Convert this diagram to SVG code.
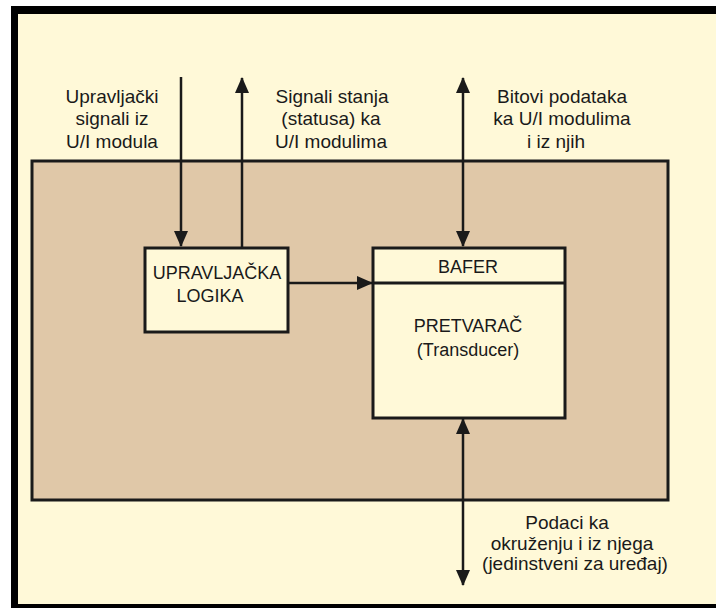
<svg xmlns="http://www.w3.org/2000/svg" width="716" height="608" viewBox="0 0 716 608">
<style>
.lbl{font-family:"Liberation Sans",Arial,sans-serif;font-size:19px;fill:#1a1a1a;text-anchor:middle}
.box{font-family:"Liberation Sans",Arial,sans-serif;font-size:18px;fill:#1a1a1a;text-anchor:middle}
.node{fill:#FFF9D8;stroke:#1a1a1a;stroke-width:3}
.wire{stroke:#1a1a1a;stroke-width:2.5;fill:none}
</style>
<defs>
<marker id="ah" markerUnits="userSpaceOnUse" markerWidth="16" markerHeight="16" refX="15" refY="8" orient="auto-start-reverse" viewBox="0 0 16 16">
<path d="M0,1 L16,8 L0,15 Z" fill="#1a1a1a"/>
</marker>
</defs>
<rect x="0" y="0" width="716" height="608" fill="#ffffff"/>
<rect x="11" y="6" width="720" height="610" fill="#000000"/>
<rect x="18" y="14" width="710" height="590" fill="#FFF9D8"/>
<g id="device">
<rect x="32" y="161" width="636" height="339" fill="#E0C8A8" stroke="#1a1a1a" stroke-width="3"/>
</g>
<g id="control-logic">
<rect class="node" x="145" y="248" width="143" height="84"/>
<text class="box" x="217" y="279">UPRAVLJAČKA</text>
<text class="box" x="210" y="302">LOGIKA</text>
</g>
<g id="buffer-transducer">
<rect class="node" x="373" y="248" width="192" height="170"/>
<line x1="373" y1="283" x2="565" y2="283" stroke="#1a1a1a" stroke-width="3"/>
<text class="box" x="468" y="273">BAFER</text>
<text class="box" x="468" y="332">PRETVARAČ</text>
<text class="box" x="468" y="356">(Transducer)</text>
</g>
<g id="labels">
<text class="lbl" x="112" y="103">Upravljački</text>
<text class="lbl" x="112" y="125">signali iz</text>
<text class="lbl" x="112" y="148">U/I modula</text>
<text class="lbl" x="332" y="103">Signali stanja</text>
<text class="lbl" x="331" y="125">(statusa) ka</text>
<text class="lbl" x="331" y="148">U/I modulima</text>
<text class="lbl" x="562" y="103">Bitovi podataka</text>
<text class="lbl" x="562" y="125">ka U/I modulima</text>
<text class="lbl" x="556" y="148">i iz njih</text>
<text class="lbl" x="567" y="529">Podaci ka</text>
<text class="lbl" x="572" y="550">okruženju i iz njega</text>
<text class="lbl" x="575" y="570">(jedinstveni za uređaj)</text>
</g>
<g id="connectors">
<line class="wire" x1="181" y1="77" x2="181" y2="246" marker-end="url(#ah)"/>
<line class="wire" x1="242" y1="248" x2="242" y2="78" marker-end="url(#ah)"/>
<line class="wire" x1="463" y1="78" x2="463" y2="246" marker-start="url(#ah)" marker-end="url(#ah)"/>
<line class="wire" x1="288" y1="283" x2="372" y2="283" marker-end="url(#ah)"/>
<line class="wire" x1="463" y1="419" x2="463" y2="585" marker-start="url(#ah)" marker-end="url(#ah)"/>
</g>
</svg>
